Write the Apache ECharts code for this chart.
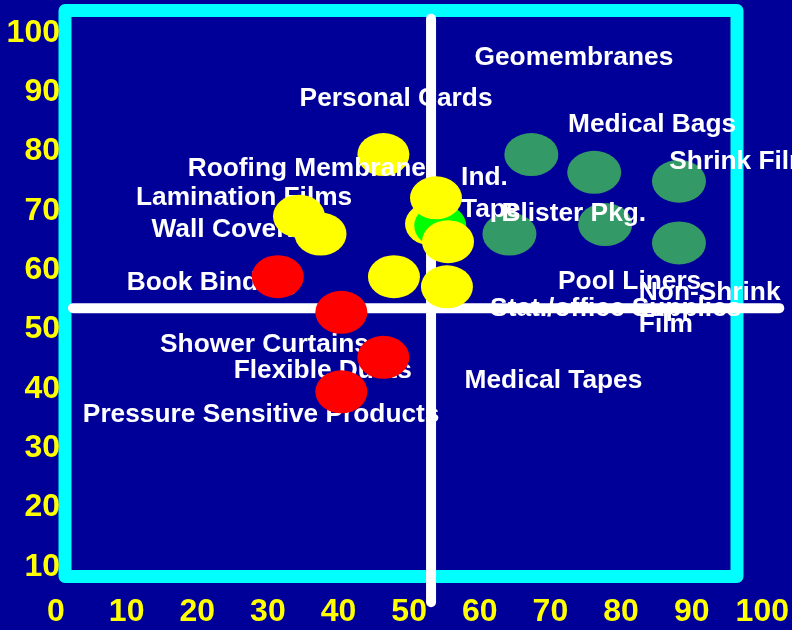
<!DOCTYPE html>
<html>
<head>
<meta charset="utf-8">
<script src="https://cdn.jsdelivr.net/npm/echarts@6/dist/echarts.min.js"></script>
<style>
html,body{margin:0;padding:0;background:#000099;}
#c{width:792px;height:630px;}
</style>
</head>
<body>
<div id="c"></div>
<script>
// ---- Data ----
const xTickLabels = ['0','10','20','30','40','50','60','70','80','90','100'];
const yTickLabels = ['','10','20','30','40','50','60','70','80','90','100'];

// quadrant split values
const splitX = 53.1;
const splitY = 53.6;

// green ellipses (drawn beneath text)
const greenX = [67.3, 76.2, 88.2, 77.75, 64.2, 88.2];
const greenY = [79.5, 76.5, 75.0, 67.7, 66.1, 64.6];

// yellow ellipse under text (Personal Cards)
const yellowBackX = [46.35];
const yellowBackY = [79.5];

// yellow ellipse partly hidden by the bright green one
const yellowUnderX = [53.1];
const yellowUnderY = [67.8];

// bright green ellipse
const brightGreenX = [54.4];
const brightGreenY = [67.5];

// yellow ellipses (above text)
const yellowX = [34.4, 37.45, 53.8, 55.5, 47.85, 55.35];
const yellowY = [69.1, 66.1, 72.2, 64.8, 58.9, 57.2];

// red ellipses
const redX = [31.4, 40.4, 46.35, 40.4];
const redY = [58.9, 52.9, 45.3, 39.5];

// text labels (left edge x, middle y)
const labelNames = ['Geomembranes','Personal Cards','Medical Bags','Shrink Film','Roofing Membrane',
  'Ind.\nTape','Blister Pkg.','Lamination Films','Wall Coverings','Book Binding','Pool Liners',
  'Non-Shrink\nFilm','Stat./office Supplies','Shower Curtains','Flexible Ducts','Medical Tapes',
  'Pressure Sensitive Products'];
const labelX = [59.18, 34.42, 72.42, 86.76, 18.58, 57.28, 63.0, 11.25, 13.45, 9.94, 71.01, 82.45, 61.39, 14.66, 25.08, 57.77, 3.73];
const labelY = [95.85, 88.95, 84.45, 78.25, 77.05, 72.95, 69.55, 72.25, 66.85, 57.85, 58.05, 53.55, 53.45, 47.45, 43.05, 41.35, 35.65];

// ---- Chart ----
const FONT = '"Liberation Sans", Arial, Helvetica, sans-serif';
const chart = echarts.init(document.getElementById('c'), null, {renderer:'canvas'});

function pts(xs, ys){ return xs.map((x,i)=>[x, ys[i]]); }
function ellSeries(xs, ys, color, size, z){
  return {type:'scatter', data:pts(xs,ys), symbol:'circle', symbolSize:size,
    itemStyle:{color:color, opacity:1}, z:z, clip:false, silent:true,
    emphasis:{disabled:true}, animation:false};
}

const option = {
  backgroundColor:'#000099',
  animation:false,
  grid:{left:56, right:26, top:33, bottom:4, containLabel:false},
  xAxis:{type:'value', min:0, max:100, interval:10, z:5,
    axisLine:{show:false}, axisTick:{show:false}, splitLine:{show:false},
    axisLabel:{margin:-14, verticalAlign:'middle', color:'#FFFF00', fontSize:32, fontWeight:'bold', fontFamily:FONT,
      formatter:(v)=>xTickLabels[Math.round(v/10)] ?? ''}},
  yAxis:{type:'value', min:0, max:100, interval:10, z:5,
    axisLine:{show:false}, axisTick:{show:false}, splitLine:{show:false},
    axisLabel:{margin:-4, color:'#FFFF00', fontSize:32, fontWeight:'bold', fontFamily:FONT,
      formatter:(v)=>yTickLabels[Math.round(v/10)] ?? ''}},
  series:[
    ellSeries(greenX, greenY, '#339966', [54,43], 2),
    ellSeries(yellowBackX, yellowBackY, '#FFFF00', [52,43], 2),
    {type:'scatter', z:3, clip:false, silent:true, animation:false,
      symbol:'circle', symbolSize:1, itemStyle:{color:'rgba(0,0,0,0)', opacity:1},
      emphasis:{disabled:true},
      data:labelNames.map((n,i)=>({name:n, value:[labelX[i], labelY[i]]})),
      label:{show:true, formatter:'{b}', position:'right', distance:0, align:'left', verticalAlign:'middle',
        color:'#FFFFFF', opacity:1, fontSize:26.3, fontWeight:'bold', fontFamily:FONT, lineHeight:32},
      labelLayout:{hideOverlap:false}
    },
    ellSeries(yellowUnderX, yellowUnderY, '#FFFF00', [52,43], 4),
    ellSeries(brightGreenX, brightGreenY, '#00FF00', [52,43], 4),
    ellSeries(yellowX, yellowY, '#FFFF00', [52,43], 4),
    ellSeries(redX, redY, '#FF0000', [52,43], 4)
  ]
};
chart.setOption(option);

// decorations: frame and quadrant cross lines (positioned from data values)
const vTop = chart.convertToPixel({gridIndex:0}, [splitX, 102.4]);
const vBot = chart.convertToPixel({gridIndex:0}, [splitX, 4.0]);
const hL = chart.convertToPixel({gridIndex:0}, [2.4, splitY]);
const hR = chart.convertToPixel({gridIndex:0}, [102.4, splitY]);

chart.setOption({
  graphic:{elements:[
    {type:'rect', z:0, silent:true, shape:{x:65, y:10.5, width:672, height:566},
      style:{fill:'none', stroke:'#00FFFF', lineWidth:13, lineJoin:'round'}},
    {type:'line', z:1, silent:true, shape:{x1:vTop[0], y1:vTop[1], x2:vBot[0], y2:vBot[1]},
      style:{stroke:'#FFFFFF', lineWidth:10, lineCap:'round'}},
    {type:'line', z:1, silent:true, shape:{x1:hL[0], y1:hL[1], x2:hR[0], y2:hR[1]},
      style:{stroke:'#FFFFFF', lineWidth:10, lineCap:'round'}}
  ]}
});
</script>
</body>
</html>
